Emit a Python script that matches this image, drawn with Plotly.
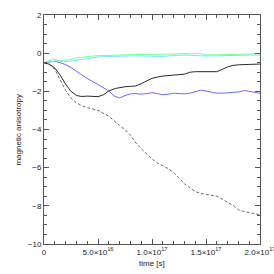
import plotly.graph_objects as go

# time in units of 1e16 s
t_black = [0, 0.5, 1, 1.5, 2, 2.5, 3, 3.5, 4, 4.5, 5, 5.5, 6, 6.6, 7, 7.5, 8, 8.5, 9, 9.5, 10, 10.5, 11, 12, 13, 13.5, 14, 15, 16, 16.5, 17, 17.5, 18, 19, 20]
v_black = [-0.5, -0.58, -0.78, -1.15, -1.62, -2.0, -2.22, -2.27, -2.25, -2.26, -2.28, -2.18, -1.98, -1.85, -1.8, -1.76, -1.74, -1.72, -1.6, -1.45, -1.32, -1.25, -1.2, -1.15, -1.1, -1.0, -0.97, -0.97, -0.97, -0.85, -0.72, -0.64, -0.61, -0.59, -0.57]

t_blue = [0, 0.5, 1, 1.5, 2, 2.5, 3, 3.5, 4, 4.5, 5, 5.5, 6, 6.5, 7, 7.5, 8, 8.5, 9, 9.5, 10, 10.5, 11, 11.5, 12, 12.5, 13, 13.5, 14, 14.5, 15, 15.5, 16, 17, 17.5, 18, 18.6, 19, 19.5, 20]
v_blue = [-0.5, -0.45, -0.42, -0.5, -0.6, -0.75, -0.95, -1.15, -1.33, -1.48, -1.65, -1.8, -1.98, -2.25, -2.35, -2.22, -2.13, -2.12, -2.15, -2.12, -2.07, -2.12, -2.18, -2.15, -2.1, -2.12, -2.13, -2.1, -2.0, -1.94, -1.98, -2.06, -2.1, -2.08, -2.06, -2.03, -1.96, -2.0, -2.08, -2.1]

t_green = [0, 0.5, 1, 1.5, 2, 2.5, 3, 3.5, 4, 5, 6, 7, 8, 9, 10, 11, 12, 13, 14, 14.5, 15, 16, 17, 18, 19, 20]
v_green = [-0.5, -0.45, -0.42, -0.4, -0.38, -0.33, -0.25, -0.2, -0.18, -0.13, -0.1, -0.1, -0.08, -0.07, -0.05, -0.04, -0.02, 0.0, 0.0, -0.02, -0.1, -0.1, -0.07, -0.06, -0.04, -0.02]

t_cyan = [0, 0.5, 0.9, 1.3, 1.8, 2.5, 3, 3.5, 4, 5, 6, 7, 8, 9, 10, 11, 12, 13, 14, 15, 16, 17, 18, 19, 20]
v_cyan = [-0.5, -0.38, -0.3, -0.38, -0.45, -0.42, -0.37, -0.32, -0.27, -0.2, -0.18, -0.15, -0.14, -0.15, -0.16, -0.17, -0.12, -0.1, -0.12, -0.15, -0.14, -0.12, -0.1, -0.1, -0.1]

t_dash = [0, 0.5, 1, 1.5, 2, 2.5, 3, 3.5, 4, 5, 6, 7, 7.5, 8, 8.5, 9, 9.5, 10, 10.5, 11, 11.5, 12, 12.5, 13, 13.5, 14, 14.5, 15, 15.5, 16, 16.5, 17, 17.5, 18, 18.5, 19, 19.5, 20]
v_dash = [-0.5, -0.6, -0.85, -1.4, -1.95, -2.35, -2.6, -2.75, -2.85, -3.0, -3.3, -3.8, -4.0, -4.3, -4.7, -5.0, -5.3, -5.55, -5.75, -5.9, -6.05, -6.25, -6.55, -6.85, -7.05, -7.25, -7.35, -7.4, -7.42, -7.5, -7.65, -7.8, -7.98, -8.2, -8.3, -8.35, -8.42, -8.47]

x_tickvals = [0, 5e16, 1e17, 1.5e17, 2e17]
x_ticktext = ["0", "5.0×10<sup>16</sup>", "1.0×10<sup>17</sup>", "1.5×10<sup>17</sup>", "2.0×10<sup>17</sup>"]
y_tickvals = [2, 0, -2, -4, -6, -8, -10]
y_ticktext = ["2", "0", "−2", "−4", "−6", "−8", "−10"]
x_title = "time [s]"
y_title = "magnetic anisotropy"

SCALE = 1e16

def sec(ts):
    return [v * SCALE for v in ts]

FONT = "Liberation Sans, Arial"
TXT = "#222222"

fig = go.Figure()
fig.add_trace(go.Scatter(x=sec(t_dash), y=v_dash, mode="lines",
                         line=dict(color="#444444", width=0.8, dash="3px,2px")))
fig.add_trace(go.Scatter(x=sec(t_black), y=v_black, mode="lines",
                         line=dict(color="#111111", width=0.9)))
fig.add_trace(go.Scatter(x=sec(t_blue), y=v_blue, mode="lines",
                         line=dict(color="#5a5aff", width=0.9)))
fig.add_trace(go.Scatter(x=sec(t_cyan), y=v_cyan, mode="lines",
                         line=dict(color="#66e0ff", width=0.9)))
fig.add_trace(go.Scatter(x=sec(t_green), y=v_green, mode="lines",
                         line=dict(color="#66ff88", width=0.9)))

axis_common = dict(showgrid=False, zeroline=False, showline=True, linecolor="#555555",
                   linewidth=1, mirror="ticks", ticks="inside", ticklen=5,
                   tickcolor="#555555", tickwidth=1, automargin=False,
                   ticklabeloverflow="allow",
                   tickfont=dict(family=FONT, size=8, color=TXT))

fig.update_xaxes(range=[0, 2e17], tickvals=x_tickvals, ticktext=x_ticktext,
                 minor=dict(ticks="inside", ticklen=3, dtick=1e16, tickcolor="#555555"),
                 **axis_common)
fig.update_yaxes(range=[-10, 2], tickvals=y_tickvals, ticktext=y_ticktext,
                 minor=dict(ticks="inside", ticklen=3, dtick=0.5, tickcolor="#555555"),
                 **axis_common)

fig.add_annotation(text=x_title, xref="paper", yref="paper", x=0.5, y=-0.087,
                   xanchor="center", yanchor="middle", showarrow=False,
                   font=dict(family=FONT, size=8, color=TXT))
fig.add_annotation(text=y_title, xref="paper", yref="paper", x=-0.12, y=0.5,
                   xanchor="center", yanchor="middle", showarrow=False, textangle=-90,
                   font=dict(family=FONT, size=8, color=TXT))

fig.update_layout(width=274, height=274, showlegend=False,
                  margin=dict(l=44, r=14, t=15, b=30),
                  paper_bgcolor="white", plot_bgcolor="white")

fig.write_html("out.html", config={"displayModeBar": False},
               post_script="document.body.style.margin='0px';document.body.style.overflow='hidden';")
